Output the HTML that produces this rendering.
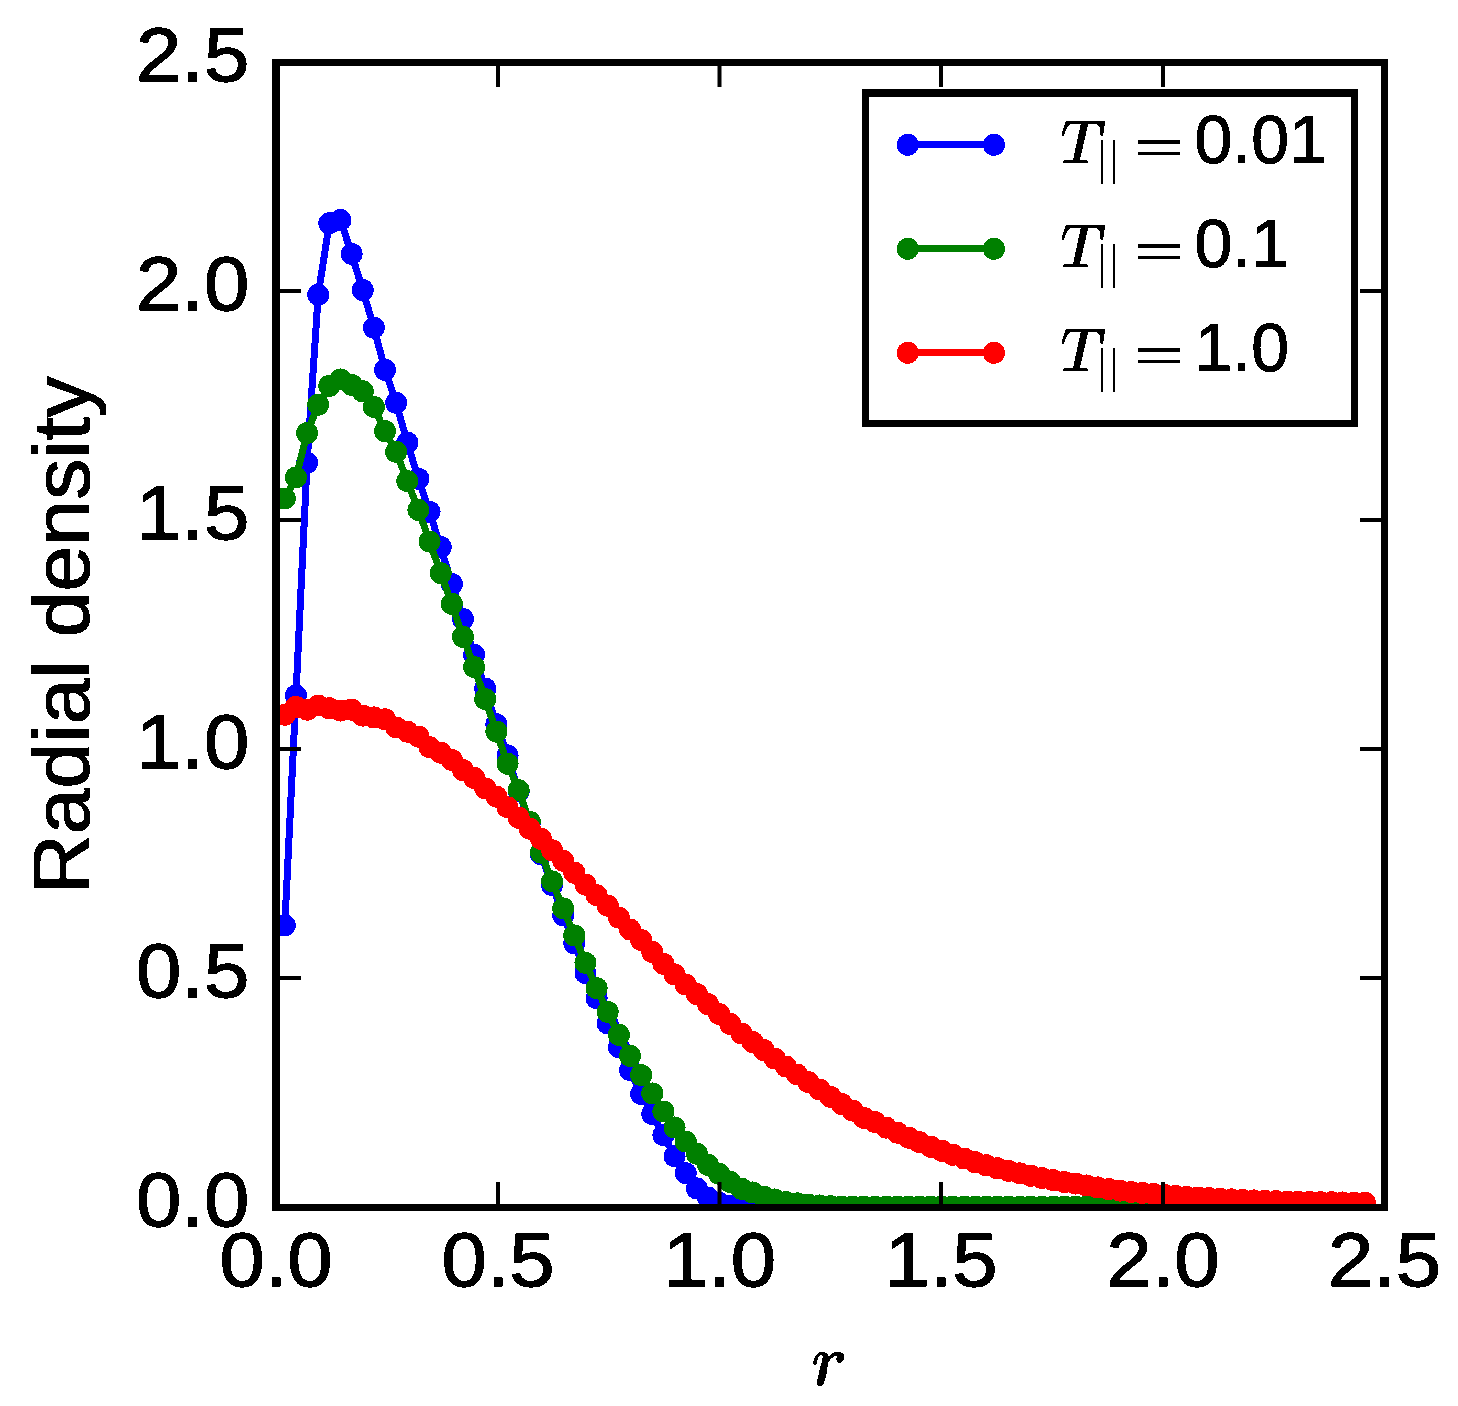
<!DOCTYPE html>
<html><head><meta charset="utf-8"><style>
html,body{margin:0;padding:0;background:#fff;}
svg{display:block;}
text{font-family:"Liberation Sans",sans-serif;}
</style></head><body>
<svg width="1458" height="1406" viewBox="0 0 1458 1406">
<rect x="0" y="0" width="1458" height="1406" fill="#fff"/>
<defs><filter id="bin" x="0" y="0" width="1" height="1" filterUnits="objectBoundingBox"><feComponentTransfer><feFuncA type="discrete" tableValues="0 1"/></feComponentTransfer></filter><clipPath id="ax"><rect x="276" y="62.5" width="1108.5" height="1145"/></clipPath></defs>
<g clip-path="url(#ax)" shape-rendering="crispEdges">
<path d="M284.80,925.37 L295.94,695.46 L307.07,462.79 L318.21,294.71 L329.34,223.26 L340.48,220.05 L351.62,253.94 L362.75,290.13 L373.89,327.68 L385.02,369.82 L396.16,402.79 L407.30,442.64 L418.43,478.82 L429.57,511.80 L440.70,547.06 L451.84,583.98 L462.98,618.97 L474.11,654.69 L485.25,688.59 L496.38,724.31 L507.52,755.45 L518.66,791.18 L529.79,823.01 L540.93,854.38 L552.06,885.07 L563.20,915.30 L574.34,943.23 L585.47,973.00 L596.61,998.19 L607.74,1023.38 L618.88,1047.20 L630.02,1070.10 L641.15,1093.92 L652.29,1114.07 L663.42,1135.14 L674.56,1156.20 L685.70,1173.20 L696.83,1188.40 L707.97,1197.52 L719.10,1202.78 L730.24,1205.67 L741.38,1206.58 L752.51,1207.04 L763.65,1207.50 L774.78,1207.50 L785.92,1207.50 L797.06,1207.50 L808.19,1207.50 L819.33,1207.50 L830.46,1207.50 L841.60,1207.50 L852.74,1207.50 L863.87,1207.50 L875.01,1207.50 L886.14,1207.50 L897.28,1207.50 L908.42,1207.50 L919.55,1207.50 L930.69,1207.50 L941.82,1207.50 L952.96,1207.50 L964.10,1207.50 L975.23,1207.50 L986.37,1207.50 L997.50,1207.50 L1008.64,1207.50 L1019.78,1207.50 L1030.91,1207.50 L1042.05,1207.50 L1053.18,1207.50 L1064.32,1207.50 L1075.46,1207.50 L1086.59,1207.50 L1097.73,1207.50 L1108.86,1207.50 L1120.00,1207.50 L1131.14,1207.50 L1142.27,1207.50 L1153.41,1207.50 L1164.54,1207.50 L1175.68,1207.50 L1186.82,1207.50 L1197.95,1207.50 L1209.09,1207.50 L1220.22,1207.50 L1231.36,1207.50 L1242.50,1207.50 L1253.63,1207.50 L1264.77,1207.50 L1275.90,1207.50 L1287.04,1207.50 L1298.18,1207.50 L1309.31,1207.50 L1320.45,1207.50 L1331.58,1207.50 L1342.72,1207.50 L1353.86,1207.50 L1364.99,1207.50" fill="none" stroke="#0000ff" stroke-width="7" stroke-linejoin="round" stroke-linecap="butt"/>
<g fill="#0000ff"><circle cx="284.80" cy="925.37" r="11"/><circle cx="295.94" cy="695.46" r="11"/><circle cx="307.07" cy="462.79" r="11"/><circle cx="318.21" cy="294.71" r="11"/><circle cx="329.34" cy="223.26" r="11"/><circle cx="340.48" cy="220.05" r="11"/><circle cx="351.62" cy="253.94" r="11"/><circle cx="362.75" cy="290.13" r="11"/><circle cx="373.89" cy="327.68" r="11"/><circle cx="385.02" cy="369.82" r="11"/><circle cx="396.16" cy="402.79" r="11"/><circle cx="407.30" cy="442.64" r="11"/><circle cx="418.43" cy="478.82" r="11"/><circle cx="429.57" cy="511.80" r="11"/><circle cx="440.70" cy="547.06" r="11"/><circle cx="451.84" cy="583.98" r="11"/><circle cx="462.98" cy="618.97" r="11"/><circle cx="474.11" cy="654.69" r="11"/><circle cx="485.25" cy="688.59" r="11"/><circle cx="496.38" cy="724.31" r="11"/><circle cx="507.52" cy="755.45" r="11"/><circle cx="518.66" cy="791.18" r="11"/><circle cx="529.79" cy="823.01" r="11"/><circle cx="540.93" cy="854.38" r="11"/><circle cx="552.06" cy="885.07" r="11"/><circle cx="563.20" cy="915.30" r="11"/><circle cx="574.34" cy="943.23" r="11"/><circle cx="585.47" cy="973.00" r="11"/><circle cx="596.61" cy="998.19" r="11"/><circle cx="607.74" cy="1023.38" r="11"/><circle cx="618.88" cy="1047.20" r="11"/><circle cx="630.02" cy="1070.10" r="11"/><circle cx="641.15" cy="1093.92" r="11"/><circle cx="652.29" cy="1114.07" r="11"/><circle cx="663.42" cy="1135.14" r="11"/><circle cx="674.56" cy="1156.20" r="11"/><circle cx="685.70" cy="1173.20" r="11"/><circle cx="696.83" cy="1188.40" r="11"/><circle cx="707.97" cy="1197.52" r="11"/><circle cx="719.10" cy="1202.78" r="11"/><circle cx="730.24" cy="1205.67" r="11"/><circle cx="741.38" cy="1206.58" r="11"/><circle cx="752.51" cy="1207.04" r="11"/><circle cx="763.65" cy="1207.50" r="11"/><circle cx="774.78" cy="1207.50" r="11"/><circle cx="785.92" cy="1207.50" r="11"/><circle cx="797.06" cy="1207.50" r="11"/><circle cx="808.19" cy="1207.50" r="11"/><circle cx="819.33" cy="1207.50" r="11"/><circle cx="830.46" cy="1207.50" r="11"/><circle cx="841.60" cy="1207.50" r="11"/><circle cx="852.74" cy="1207.50" r="11"/><circle cx="863.87" cy="1207.50" r="11"/><circle cx="875.01" cy="1207.50" r="11"/><circle cx="886.14" cy="1207.50" r="11"/><circle cx="897.28" cy="1207.50" r="11"/><circle cx="908.42" cy="1207.50" r="11"/><circle cx="919.55" cy="1207.50" r="11"/><circle cx="930.69" cy="1207.50" r="11"/><circle cx="941.82" cy="1207.50" r="11"/><circle cx="952.96" cy="1207.50" r="11"/><circle cx="964.10" cy="1207.50" r="11"/><circle cx="975.23" cy="1207.50" r="11"/><circle cx="986.37" cy="1207.50" r="11"/><circle cx="997.50" cy="1207.50" r="11"/><circle cx="1008.64" cy="1207.50" r="11"/><circle cx="1019.78" cy="1207.50" r="11"/><circle cx="1030.91" cy="1207.50" r="11"/><circle cx="1042.05" cy="1207.50" r="11"/><circle cx="1053.18" cy="1207.50" r="11"/><circle cx="1064.32" cy="1207.50" r="11"/><circle cx="1075.46" cy="1207.50" r="11"/><circle cx="1086.59" cy="1207.50" r="11"/><circle cx="1097.73" cy="1207.50" r="11"/><circle cx="1108.86" cy="1207.50" r="11"/><circle cx="1120.00" cy="1207.50" r="11"/><circle cx="1131.14" cy="1207.50" r="11"/><circle cx="1142.27" cy="1207.50" r="11"/><circle cx="1153.41" cy="1207.50" r="11"/><circle cx="1164.54" cy="1207.50" r="11"/><circle cx="1175.68" cy="1207.50" r="11"/><circle cx="1186.82" cy="1207.50" r="11"/><circle cx="1197.95" cy="1207.50" r="11"/><circle cx="1209.09" cy="1207.50" r="11"/><circle cx="1220.22" cy="1207.50" r="11"/><circle cx="1231.36" cy="1207.50" r="11"/><circle cx="1242.50" cy="1207.50" r="11"/><circle cx="1253.63" cy="1207.50" r="11"/><circle cx="1264.77" cy="1207.50" r="11"/><circle cx="1275.90" cy="1207.50" r="11"/><circle cx="1287.04" cy="1207.50" r="11"/><circle cx="1298.18" cy="1207.50" r="11"/><circle cx="1309.31" cy="1207.50" r="11"/><circle cx="1320.45" cy="1207.50" r="11"/><circle cx="1331.58" cy="1207.50" r="11"/><circle cx="1342.72" cy="1207.50" r="11"/><circle cx="1353.86" cy="1207.50" r="11"/><circle cx="1364.99" cy="1207.50" r="11"/></g>
<path d="M284.80,498.52 L295.94,477.45 L307.07,433.02 L318.21,404.63 L329.34,385.85 L340.48,379.44 L351.62,384.93 L362.75,391.34 L373.89,406.92 L385.02,431.19 L396.16,451.80 L407.30,481.11 L418.43,509.97 L429.57,541.57 L440.70,573.17 L451.84,603.86 L462.98,636.83 L474.11,667.06 L485.25,699.12 L496.38,731.64 L507.52,763.70 L518.66,790.26 L529.79,821.86 L540.93,852.55 L552.06,881.40 L563.20,908.43 L574.34,935.45 L585.47,962.93 L596.61,988.12 L607.74,1011.93 L618.88,1034.83 L630.02,1055.90 L641.15,1075.14 L652.29,1093.46 L663.42,1111.50 L674.56,1127.49 L685.70,1141.50 L696.83,1153.68 L707.97,1164.81 L719.10,1173.79 L730.24,1181.90 L741.38,1188.72 L752.51,1192.48 L763.65,1196.60 L774.78,1199.48 L785.92,1202.00 L797.06,1203.38 L808.19,1204.52 L819.33,1205.44 L830.46,1206.13 L841.60,1206.58 L852.74,1206.58 L863.87,1206.58 L875.01,1206.58 L886.14,1206.58 L897.28,1206.58 L908.42,1206.58 L919.55,1206.58 L930.69,1206.58 L941.82,1206.58 L952.96,1206.58 L964.10,1206.58 L975.23,1206.58 L986.37,1206.58 L997.50,1206.58 L1008.64,1206.58 L1019.78,1206.58 L1030.91,1206.58 L1042.05,1206.58 L1053.18,1206.58 L1064.32,1206.58 L1075.46,1206.58 L1086.59,1206.58 L1097.73,1206.58 L1108.86,1206.58 L1120.00,1206.58 L1131.14,1206.58 L1142.27,1206.58 L1153.41,1206.58 L1164.54,1206.58 L1175.68,1206.58 L1186.82,1206.58 L1197.95,1206.58 L1209.09,1206.58 L1220.22,1206.58 L1231.36,1206.58 L1242.50,1206.58 L1253.63,1206.58 L1264.77,1206.58 L1275.90,1206.58 L1287.04,1206.58 L1298.18,1206.58 L1309.31,1206.58 L1320.45,1206.58 L1331.58,1206.58 L1342.72,1206.58 L1353.86,1206.58 L1364.99,1206.58" fill="none" stroke="#008000" stroke-width="7" stroke-linejoin="round" stroke-linecap="butt"/>
<g fill="#008000"><circle cx="284.80" cy="498.52" r="11"/><circle cx="295.94" cy="477.45" r="11"/><circle cx="307.07" cy="433.02" r="11"/><circle cx="318.21" cy="404.63" r="11"/><circle cx="329.34" cy="385.85" r="11"/><circle cx="340.48" cy="379.44" r="11"/><circle cx="351.62" cy="384.93" r="11"/><circle cx="362.75" cy="391.34" r="11"/><circle cx="373.89" cy="406.92" r="11"/><circle cx="385.02" cy="431.19" r="11"/><circle cx="396.16" cy="451.80" r="11"/><circle cx="407.30" cy="481.11" r="11"/><circle cx="418.43" cy="509.97" r="11"/><circle cx="429.57" cy="541.57" r="11"/><circle cx="440.70" cy="573.17" r="11"/><circle cx="451.84" cy="603.86" r="11"/><circle cx="462.98" cy="636.83" r="11"/><circle cx="474.11" cy="667.06" r="11"/><circle cx="485.25" cy="699.12" r="11"/><circle cx="496.38" cy="731.64" r="11"/><circle cx="507.52" cy="763.70" r="11"/><circle cx="518.66" cy="790.26" r="11"/><circle cx="529.79" cy="821.86" r="11"/><circle cx="540.93" cy="852.55" r="11"/><circle cx="552.06" cy="881.40" r="11"/><circle cx="563.20" cy="908.43" r="11"/><circle cx="574.34" cy="935.45" r="11"/><circle cx="585.47" cy="962.93" r="11"/><circle cx="596.61" cy="988.12" r="11"/><circle cx="607.74" cy="1011.93" r="11"/><circle cx="618.88" cy="1034.83" r="11"/><circle cx="630.02" cy="1055.90" r="11"/><circle cx="641.15" cy="1075.14" r="11"/><circle cx="652.29" cy="1093.46" r="11"/><circle cx="663.42" cy="1111.50" r="11"/><circle cx="674.56" cy="1127.49" r="11"/><circle cx="685.70" cy="1141.50" r="11"/><circle cx="696.83" cy="1153.68" r="11"/><circle cx="707.97" cy="1164.81" r="11"/><circle cx="719.10" cy="1173.79" r="11"/><circle cx="730.24" cy="1181.90" r="11"/><circle cx="741.38" cy="1188.72" r="11"/><circle cx="752.51" cy="1192.48" r="11"/><circle cx="763.65" cy="1196.60" r="11"/><circle cx="774.78" cy="1199.48" r="11"/><circle cx="785.92" cy="1202.00" r="11"/><circle cx="797.06" cy="1203.38" r="11"/><circle cx="808.19" cy="1204.52" r="11"/><circle cx="819.33" cy="1205.44" r="11"/><circle cx="830.46" cy="1206.13" r="11"/><circle cx="841.60" cy="1206.58" r="11"/><circle cx="852.74" cy="1206.58" r="11"/><circle cx="863.87" cy="1206.58" r="11"/><circle cx="875.01" cy="1206.58" r="11"/><circle cx="886.14" cy="1206.58" r="11"/><circle cx="897.28" cy="1206.58" r="11"/><circle cx="908.42" cy="1206.58" r="11"/><circle cx="919.55" cy="1206.58" r="11"/><circle cx="930.69" cy="1206.58" r="11"/><circle cx="941.82" cy="1206.58" r="11"/><circle cx="952.96" cy="1206.58" r="11"/><circle cx="964.10" cy="1206.58" r="11"/><circle cx="975.23" cy="1206.58" r="11"/><circle cx="986.37" cy="1206.58" r="11"/><circle cx="997.50" cy="1206.58" r="11"/><circle cx="1008.64" cy="1206.58" r="11"/><circle cx="1019.78" cy="1206.58" r="11"/><circle cx="1030.91" cy="1206.58" r="11"/><circle cx="1042.05" cy="1206.58" r="11"/><circle cx="1053.18" cy="1206.58" r="11"/><circle cx="1064.32" cy="1206.58" r="11"/><circle cx="1075.46" cy="1206.58" r="11"/><circle cx="1086.59" cy="1206.58" r="11"/><circle cx="1097.73" cy="1206.58" r="11"/><circle cx="1108.86" cy="1206.58" r="11"/><circle cx="1120.00" cy="1206.58" r="11"/><circle cx="1131.14" cy="1206.58" r="11"/><circle cx="1142.27" cy="1206.58" r="11"/><circle cx="1153.41" cy="1206.58" r="11"/><circle cx="1164.54" cy="1206.58" r="11"/><circle cx="1175.68" cy="1206.58" r="11"/><circle cx="1186.82" cy="1206.58" r="11"/><circle cx="1197.95" cy="1206.58" r="11"/><circle cx="1209.09" cy="1206.58" r="11"/><circle cx="1220.22" cy="1206.58" r="11"/><circle cx="1231.36" cy="1206.58" r="11"/><circle cx="1242.50" cy="1206.58" r="11"/><circle cx="1253.63" cy="1206.58" r="11"/><circle cx="1264.77" cy="1206.58" r="11"/><circle cx="1275.90" cy="1206.58" r="11"/><circle cx="1287.04" cy="1206.58" r="11"/><circle cx="1298.18" cy="1206.58" r="11"/><circle cx="1309.31" cy="1206.58" r="11"/><circle cx="1320.45" cy="1206.58" r="11"/><circle cx="1331.58" cy="1206.58" r="11"/><circle cx="1342.72" cy="1206.58" r="11"/><circle cx="1353.86" cy="1206.58" r="11"/><circle cx="1364.99" cy="1206.58" r="11"/></g>
<path d="M284.80,714.69 L295.94,706.91 L307.07,709.65 L318.21,705.53 L329.34,708.28 L340.48,710.57 L351.62,709.65 L362.75,715.61 L373.89,717.44 L385.02,719.27 L396.16,727.52 L407.30,731.64 L418.43,736.68 L429.57,747.21 L440.70,752.71 L451.84,760.03 L462.98,770.11 L474.11,777.90 L485.25,788.43 L496.38,796.67 L507.52,807.21 L518.66,817.74 L529.79,828.73 L540.93,838.81 L552.06,850.26 L563.20,860.79 L574.34,872.70 L585.47,884.61 L596.61,895.14 L607.74,905.68 L618.88,917.59 L630.02,929.49 L641.15,940.03 L652.29,951.94 L663.42,963.84 L674.56,974.38 L685.70,984.45 L696.83,994.07 L707.97,1004.15 L719.10,1014.00 L730.24,1023.98 L741.38,1033.51 L752.51,1041.98 L763.65,1049.99 L774.78,1058.51 L785.92,1066.48 L797.06,1074.50 L808.19,1082.01 L819.33,1089.52 L830.46,1096.89 L841.60,1103.99 L852.74,1110.59 L863.87,1117.92 L875.01,1122.08 L886.14,1127.58 L897.28,1132.64 L908.42,1137.66 L919.55,1142.26 L930.69,1146.80 L941.82,1150.81 L952.96,1154.79 L964.10,1158.52 L975.23,1162.19 L986.37,1165.30 L997.50,1168.30 L1008.64,1170.87 L1019.78,1173.40 L1030.91,1175.78 L1042.05,1178.09 L1053.18,1180.14 L1064.32,1182.03 L1075.46,1183.53 L1086.59,1185.45 L1097.73,1187.41 L1108.86,1189.15 L1120.00,1190.56 L1131.14,1191.97 L1142.27,1192.99 L1153.41,1193.96 L1164.54,1194.94 L1175.68,1195.93 L1186.82,1196.92 L1197.95,1197.51 L1209.09,1198.10 L1220.22,1198.74 L1231.36,1199.40 L1242.50,1200.03 L1253.63,1200.41 L1264.77,1200.79 L1275.90,1201.17 L1287.04,1201.55 L1298.18,1201.73 L1309.31,1201.91 L1320.45,1202.10 L1331.58,1202.28 L1342.72,1202.46 L1353.86,1202.69 L1364.99,1202.92" fill="none" stroke="#ff0000" stroke-width="7" stroke-linejoin="round" stroke-linecap="butt"/>
<g fill="#ff0000"><circle cx="284.80" cy="714.69" r="11"/><circle cx="295.94" cy="706.91" r="11"/><circle cx="307.07" cy="709.65" r="11"/><circle cx="318.21" cy="705.53" r="11"/><circle cx="329.34" cy="708.28" r="11"/><circle cx="340.48" cy="710.57" r="11"/><circle cx="351.62" cy="709.65" r="11"/><circle cx="362.75" cy="715.61" r="11"/><circle cx="373.89" cy="717.44" r="11"/><circle cx="385.02" cy="719.27" r="11"/><circle cx="396.16" cy="727.52" r="11"/><circle cx="407.30" cy="731.64" r="11"/><circle cx="418.43" cy="736.68" r="11"/><circle cx="429.57" cy="747.21" r="11"/><circle cx="440.70" cy="752.71" r="11"/><circle cx="451.84" cy="760.03" r="11"/><circle cx="462.98" cy="770.11" r="11"/><circle cx="474.11" cy="777.90" r="11"/><circle cx="485.25" cy="788.43" r="11"/><circle cx="496.38" cy="796.67" r="11"/><circle cx="507.52" cy="807.21" r="11"/><circle cx="518.66" cy="817.74" r="11"/><circle cx="529.79" cy="828.73" r="11"/><circle cx="540.93" cy="838.81" r="11"/><circle cx="552.06" cy="850.26" r="11"/><circle cx="563.20" cy="860.79" r="11"/><circle cx="574.34" cy="872.70" r="11"/><circle cx="585.47" cy="884.61" r="11"/><circle cx="596.61" cy="895.14" r="11"/><circle cx="607.74" cy="905.68" r="11"/><circle cx="618.88" cy="917.59" r="11"/><circle cx="630.02" cy="929.49" r="11"/><circle cx="641.15" cy="940.03" r="11"/><circle cx="652.29" cy="951.94" r="11"/><circle cx="663.42" cy="963.84" r="11"/><circle cx="674.56" cy="974.38" r="11"/><circle cx="685.70" cy="984.45" r="11"/><circle cx="696.83" cy="994.07" r="11"/><circle cx="707.97" cy="1004.15" r="11"/><circle cx="719.10" cy="1014.00" r="11"/><circle cx="730.24" cy="1023.98" r="11"/><circle cx="741.38" cy="1033.51" r="11"/><circle cx="752.51" cy="1041.98" r="11"/><circle cx="763.65" cy="1049.99" r="11"/><circle cx="774.78" cy="1058.51" r="11"/><circle cx="785.92" cy="1066.48" r="11"/><circle cx="797.06" cy="1074.50" r="11"/><circle cx="808.19" cy="1082.01" r="11"/><circle cx="819.33" cy="1089.52" r="11"/><circle cx="830.46" cy="1096.89" r="11"/><circle cx="841.60" cy="1103.99" r="11"/><circle cx="852.74" cy="1110.59" r="11"/><circle cx="863.87" cy="1117.92" r="11"/><circle cx="875.01" cy="1122.08" r="11"/><circle cx="886.14" cy="1127.58" r="11"/><circle cx="897.28" cy="1132.64" r="11"/><circle cx="908.42" cy="1137.66" r="11"/><circle cx="919.55" cy="1142.26" r="11"/><circle cx="930.69" cy="1146.80" r="11"/><circle cx="941.82" cy="1150.81" r="11"/><circle cx="952.96" cy="1154.79" r="11"/><circle cx="964.10" cy="1158.52" r="11"/><circle cx="975.23" cy="1162.19" r="11"/><circle cx="986.37" cy="1165.30" r="11"/><circle cx="997.50" cy="1168.30" r="11"/><circle cx="1008.64" cy="1170.87" r="11"/><circle cx="1019.78" cy="1173.40" r="11"/><circle cx="1030.91" cy="1175.78" r="11"/><circle cx="1042.05" cy="1178.09" r="11"/><circle cx="1053.18" cy="1180.14" r="11"/><circle cx="1064.32" cy="1182.03" r="11"/><circle cx="1075.46" cy="1183.53" r="11"/><circle cx="1086.59" cy="1185.45" r="11"/><circle cx="1097.73" cy="1187.41" r="11"/><circle cx="1108.86" cy="1189.15" r="11"/><circle cx="1120.00" cy="1190.56" r="11"/><circle cx="1131.14" cy="1191.97" r="11"/><circle cx="1142.27" cy="1192.99" r="11"/><circle cx="1153.41" cy="1193.96" r="11"/><circle cx="1164.54" cy="1194.94" r="11"/><circle cx="1175.68" cy="1195.93" r="11"/><circle cx="1186.82" cy="1196.92" r="11"/><circle cx="1197.95" cy="1197.51" r="11"/><circle cx="1209.09" cy="1198.10" r="11"/><circle cx="1220.22" cy="1198.74" r="11"/><circle cx="1231.36" cy="1199.40" r="11"/><circle cx="1242.50" cy="1200.03" r="11"/><circle cx="1253.63" cy="1200.41" r="11"/><circle cx="1264.77" cy="1200.79" r="11"/><circle cx="1275.90" cy="1201.17" r="11"/><circle cx="1287.04" cy="1201.55" r="11"/><circle cx="1298.18" cy="1201.73" r="11"/><circle cx="1309.31" cy="1201.91" r="11"/><circle cx="1320.45" cy="1202.10" r="11"/><circle cx="1331.58" cy="1202.28" r="11"/><circle cx="1342.72" cy="1202.46" r="11"/><circle cx="1353.86" cy="1202.69" r="11"/><circle cx="1364.99" cy="1202.92" r="11"/></g>

</g>
<g stroke="#000" stroke-width="4" fill="none"><line x1="498.0" y1="1207.5" x2="498.0" y2="1182" /><line x1="498.0" y1="62.5" x2="498.0" y2="87" /><line x1="719.5" y1="1207.5" x2="719.5" y2="1182" /><line x1="719.5" y1="62.5" x2="719.5" y2="87" /><line x1="941.0" y1="1207.5" x2="941.0" y2="1182" /><line x1="941.0" y1="62.5" x2="941.0" y2="87" /><line x1="1163.0" y1="1207.5" x2="1163.0" y2="1182" /><line x1="1163.0" y1="62.5" x2="1163.0" y2="87" /><line x1="276" y1="978.0" x2="301" y2="978.0" /><line x1="1384.5" y1="978.0" x2="1360" y2="978.0" /><line x1="276" y1="749.0" x2="301" y2="749.0" /><line x1="1384.5" y1="749.0" x2="1360" y2="749.0" /><line x1="276" y1="520.0" x2="301" y2="520.0" /><line x1="1384.5" y1="520.0" x2="1360" y2="520.0" /><line x1="276" y1="291.0" x2="301" y2="291.0" /><line x1="1384.5" y1="291.0" x2="1360" y2="291.0" /></g>
<g fill="#000"><rect x="272" y="59" width="8" height="1152"/><rect x="1381" y="59" width="7" height="1152"/><rect x="272" y="59" width="1116" height="7"/><rect x="272" y="1204" width="1116" height="7"/></g>
<g font-size="76.5" fill="#000" stroke="#000" stroke-width="1.3" filter="url(#bin)"><text x="0" y="0" transform="translate(276.0,1286.1) scale(1.065,1)" text-anchor="middle">0.0</text><text x="0" y="0" transform="translate(498.0,1286.1) scale(1.065,1)" text-anchor="middle">0.5</text><text x="0" y="0" transform="translate(719.5,1286.1) scale(1.065,1)" text-anchor="middle">1.0</text><text x="0" y="0" transform="translate(941.0,1286.1) scale(1.065,1)" text-anchor="middle">1.5</text><text x="0" y="0" transform="translate(1163.0,1286.1) scale(1.065,1)" text-anchor="middle">2.0</text><text x="0" y="0" transform="translate(1384.5,1286.1) scale(1.065,1)" text-anchor="middle">2.5</text><text x="0" y="0" transform="translate(249.3,1225.7) scale(1.065,1)" text-anchor="end">0.0</text><text x="0" y="0" transform="translate(249.3,996.7) scale(1.065,1)" text-anchor="end">0.5</text><text x="0" y="0" transform="translate(249.3,767.7) scale(1.065,1)" text-anchor="end">1.0</text><text x="0" y="0" transform="translate(249.3,538.7) scale(1.065,1)" text-anchor="end">1.5</text><text x="0" y="0" transform="translate(249.3,309.7) scale(1.065,1)" text-anchor="end">2.0</text><text x="0" y="0" transform="translate(249.3,80.7) scale(1.065,1)" text-anchor="end">2.5</text></g>
<text filter="url(#bin)" x="0" y="0" transform="translate(89,635.1) rotate(-90) scale(1.03,1)" text-anchor="middle" font-size="80" fill="#000" stroke="#000" stroke-width="1.2">Radial density</text>
<path d="M812.8,1363.5 L815,1357 L816.7,1354.7 L819.3,1352.1 L824.1,1352.1 L827.6,1354.1 L828.7,1356.4 L832.1,1353 L835.5,1352.1 L840.1,1352.1 L843.5,1354.1 L844.1,1358.7 L843.2,1361 L840.1,1362.7 L837.8,1362.4 L836.1,1359.8 L836.4,1358.1 L837.8,1355.6 L835,1355.6 L831,1358.7 L828.1,1362.4 L827,1371.2 L825.3,1379.2 L823.6,1383.7 L821.3,1386 L817.9,1386 L816.7,1383.7 L817.3,1380.3 L819.6,1370.1 L821.9,1361 L822.7,1356.4 L821.9,1355 L820.4,1355 L818.4,1357 L817,1361 L816.5,1364.7 L815,1365 L813,1363.8 Z" fill="#000" filter="url(#bin)"/>
<!-- legend -->
<rect x="862" y="89" width="496" height="338" fill="#fff"/><g fill="#000"><rect x="862" y="89" width="7" height="338"/><rect x="1351" y="89" width="7" height="338"/><rect x="862" y="89" width="496" height="8"/><rect x="862" y="420" width="496" height="7"/></g>
<g shape-rendering="crispEdges"><line x1="907.7" y1="144.8" x2="993.9" y2="144.8" stroke="#0000ff" stroke-width="7"/><circle cx="907.7" cy="144.8" r="11" fill="#0000ff"/><circle cx="993.9" cy="144.8" r="11" fill="#0000ff"/></g><path d="M1066.0,120.9 L1105.1,120.9 L1104.2,129.0 L1103.0,135.5 L1100.2,135.5 L1100.4,130.0 L1099.3,126.5 L1096.5,124.0 L1088.2,124.0 L1079.9,160.0 L1086.5,160.0 L1088.1,161.3 L1087.5,162.9 L1063.0,162.9 L1063.0,161.3 L1064.2,160.0 L1073.0,160.0 L1080.7,124.0 L1071.0,124.0 L1067.5,126.5 L1065.5,131.0 L1064.0,135.5 L1061.9,135.5 L1062.5,131.0 L1064.5,124.5 Z" fill="#000" filter="url(#bin)"/><g shape-rendering="crispEdges" fill="#000"><rect x="1101" y="140" width="2" height="44"/><rect x="1113" y="140" width="2" height="44"/><rect x="1138" y="140" width="42" height="4"/><rect x="1138" y="152" width="42" height="3"/></g><text filter="url(#bin)" x="0" y="0" transform="translate(1194.5,162.9) scale(1.0,1)" font-size="68" stroke="#000" stroke-width="1.1">0.01</text><g shape-rendering="crispEdges"><line x1="907.7" y1="248.8" x2="993.9" y2="248.8" stroke="#008000" stroke-width="7"/><circle cx="907.7" cy="248.8" r="11" fill="#008000"/><circle cx="993.9" cy="248.8" r="11" fill="#008000"/></g><path d="M1066.0,224.9 L1105.1,224.9 L1104.2,233.0 L1103.0,239.5 L1100.2,239.5 L1100.4,234.0 L1099.3,230.5 L1096.5,228.0 L1088.2,228.0 L1079.9,264.0 L1086.5,264.0 L1088.1,265.3 L1087.5,266.9 L1063.0,266.9 L1063.0,265.3 L1064.2,264.0 L1073.0,264.0 L1080.7,228.0 L1071.0,228.0 L1067.5,230.5 L1065.5,235.0 L1064.0,239.5 L1061.9,239.5 L1062.5,235.0 L1064.5,228.5 Z" fill="#000" filter="url(#bin)"/><g shape-rendering="crispEdges" fill="#000"><rect x="1101" y="244" width="2" height="44"/><rect x="1113" y="244" width="2" height="44"/><rect x="1138" y="244" width="42" height="4"/><rect x="1138" y="256" width="42" height="3"/></g><text filter="url(#bin)" x="0" y="0" transform="translate(1194.5,266.9) scale(1.0,1)" font-size="68" stroke="#000" stroke-width="1.1">0.1</text><g shape-rendering="crispEdges"><line x1="907.7" y1="352.8" x2="993.9" y2="352.8" stroke="#ff0000" stroke-width="7"/><circle cx="907.7" cy="352.8" r="11" fill="#ff0000"/><circle cx="993.9" cy="352.8" r="11" fill="#ff0000"/></g><path d="M1066.0,328.9 L1105.1,328.9 L1104.2,337.0 L1103.0,343.5 L1100.2,343.5 L1100.4,338.0 L1099.3,334.5 L1096.5,332.0 L1088.2,332.0 L1079.9,368.0 L1086.5,368.0 L1088.1,369.3 L1087.5,370.9 L1063.0,370.9 L1063.0,369.3 L1064.2,368.0 L1073.0,368.0 L1080.7,332.0 L1071.0,332.0 L1067.5,334.5 L1065.5,339.0 L1064.0,343.5 L1061.9,343.5 L1062.5,339.0 L1064.5,332.5 Z" fill="#000" filter="url(#bin)"/><g shape-rendering="crispEdges" fill="#000"><rect x="1101" y="348" width="2" height="44"/><rect x="1113" y="348" width="2" height="44"/><rect x="1138" y="348" width="42" height="4"/><rect x="1138" y="360" width="42" height="3"/></g><text filter="url(#bin)" x="0" y="0" transform="translate(1194.5,370.9) scale(1.0,1)" font-size="68" stroke="#000" stroke-width="1.1">1.0</text>
</svg>
</body></html>
